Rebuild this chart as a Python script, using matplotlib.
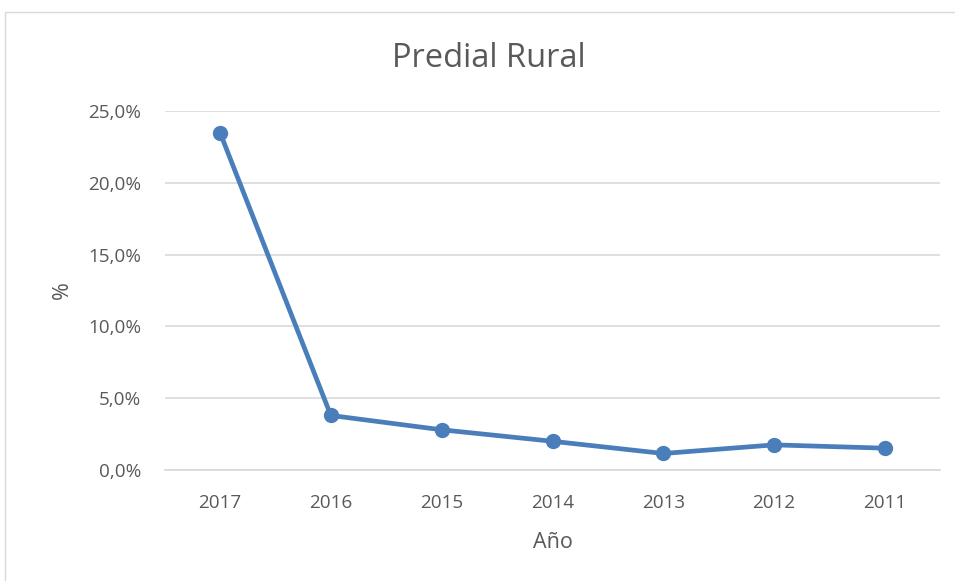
import matplotlib
matplotlib.use("Agg")
import matplotlib.pyplot as plt
from matplotlib.ticker import FuncFormatter, MultipleLocator
from matplotlib.patches import Rectangle

years = ["2017", "2016", "2015", "2014", "2013", "2012", "2011"]
values = [23.5, 3.8, 2.8, 2.0, 1.15, 1.75, 1.52]
title = "Predial Rural"
xlabel = "Año"
ylabel = "%"

plt.rcParams['font.family'] = ['Open Sans', 'DejaVu Sans']
txt = '#595959'
grid = '#d9d9d9'
blue = '#4a7ebb'

fig = plt.figure(figsize=(9.55, 5.81), dpi=100)
fig.patches.append(Rectangle((5/955, -0.1), 1.1, 1 - 12/581 + 0.1, transform=fig.transFigure,
                             fill=False, edgecolor=grid, linewidth=1.0))
ax = fig.add_axes([164.6/955, 1 - 470/581, (940.4 - 164.6)/955, (470 - 111)/581])
x = list(range(len(years)))
ax.plot(x, values, color=blue, linewidth=3.4, marker='o', markersize=10, zorder=3)
ax.set_xlim(-0.5, len(years) - 0.5)
ax.set_ylim(0, 25)
ax.yaxis.set_major_locator(MultipleLocator(5))
ax.yaxis.set_major_formatter(FuncFormatter(lambda v, p: f"{v:.1f}".replace('.', ',') + "%"))
ax.set_xticks(x)
ax.set_xticklabels(years)
ax.grid(axis='y', color=grid, linewidth=1.2)
ax.set_axisbelow(True)
for s in ['top', 'right', 'left']:
    ax.spines[s].set_visible(False)
ax.spines['bottom'].set_color(grid)
ax.spines['bottom'].set_linewidth(1.2)
ax.tick_params(length=0, colors=txt, labelsize=13.6)
ax.tick_params(axis='x', pad=17.5)
ax.tick_params(axis='y', pad=17)
ax.set_xlabel(xlabel, color=txt, fontsize=15.5, labelpad=14.5)
ax.set_ylabel(ylabel, color=txt, fontsize=15.5, labelpad=11)
fig.text(489/955, 1 - 67/581, title, ha='center', va='baseline', color=txt, fontsize=23.5)
fig.savefig("out.png", dpi=100)
